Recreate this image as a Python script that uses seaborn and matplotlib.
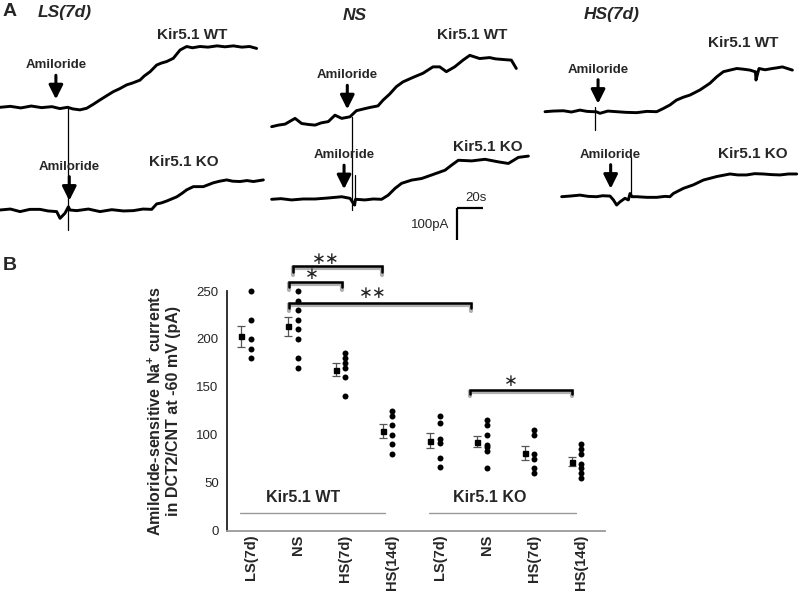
import numpy as np
import pandas as pd
import matplotlib
matplotlib.use("Agg")
import matplotlib.pyplot as plt
import seaborn as sns

sns.set_theme(style="white")
plt.rcParams["font.family"] = ["Liberation Sans", "DejaVu Sans"]
plt.rcParams["mathtext.fontset"] = "custom"
plt.rcParams["mathtext.bf"] = "Liberation Sans:bold"
plt.rcParams["mathtext.rm"] = "Liberation Sans"

# ---------------- Panel A: current traces (time in s, current change in pA) ----------------
ls_wt_t = [0, 8, 16, 24, 32, 40, 46, 52, 56, 61.5, 66.7, 72, 76.9, 82, 87.2, 92, 97.4,
           102, 107.7, 111, 115.4, 120.5, 124, 128.2, 133.3, 138.5, 143.6, 148, 153.8, 160, 167, 173,
           179.5, 186, 192, 197.4]
ls_wt_i = [0, 3, -2, 4, -1, 2, -4, 0, -5, -8, -3, 10, 23, 36, 49, 58, 70,
           76, 85, 98, 111, 132, 138, 143, 153, 179, 190, 186, 190, 188, 192, 189,
           192, 188, 190, 184]
ls_ko_t = [0, 8, 15.4, 23, 30.8, 37, 43.6, 46.2, 50, 52.6, 53.8, 59, 68, 76.9, 86, 95, 102.5, 110,
           116.7, 120.5, 124, 128.2, 135.9, 140, 143.6, 148.7, 156.4, 164.1, 169, 174.4, 179, 184.6,
           190, 194.9, 202.6]
ls_ko_i = [0, 3, -5, 2, 2, -3, -5, -26, -10, 10, 0, -2, 3, -5, 1, -3, -2, 3,
           2, 19, 22, 28, 41, 52, 63, 73, 73, 85, 90, 94, 90, 89,
           92, 89, 94]

ns_wt_t = [2.8, 8, 13.1, 20.8, 25.9, 31, 36.2, 41, 46.4, 51.5, 56.7, 63.1, 68, 73,
           78.2, 84.6, 88.5, 93.6, 98.7, 103.8, 111.5, 119.2, 126.9, 132.1, 137.2, 143.6, 150, 155.2,
           162.8, 170.5, 175, 180.8, 187.2, 191]
ns_wt_i = [0, 5, 8, 26, 10, 7, 5, 12, 16, 36, 26, 31, 50, 55,
           60, 65, 83, 102, 125, 140, 154, 167, 187, 187, 172, 187, 208, 223,
           213, 216, 212, 210, 208, 182]
ns_ko_t = [2.8, 10, 18.2, 27, 36.2, 46, 56.7, 63.1, 64.9, 66.5, 67.3, 74.6, 81, 87.4, 92.5,
           97.7, 102.8, 110.5, 118.2, 125.9, 136.2, 141.3, 146.4, 156.7, 166.9, 177.2, 184.9, 192.6,
           200.3]
ns_ko_i = [0, 2, -2, 1, 1, 4, 8, 3, -8, -18, 0, -2, 1, 0, 13,
           34, 50, 60, 65, 76, 91, 107, 122, 120, 125, 117, 112, 131,
           135]

hs_wt_t = [7.7, 14, 21.8, 28, 34.6, 40, 44.9, 47, 50, 56, 62.8, 70, 78.2, 86, 93.6,
           98.7, 103.8, 108.7, 113.9, 119.2, 126.9, 134.6, 139.8, 144.9, 150, 155.2, 160, 165.4,
           169.2, 169.6, 170, 172.3, 177, 182.6, 186, 190.3, 198]
hs_wt_i = [0, 2, 3, -1, 5, 1, 0, 0, -5, 2, 0, -2, -3, 1, 0,
           10, 21, 36, 45, 52, 68, 89, 109, 125, 130, 135, 133, 130,
           125, 125, 99, 135, 131, 135, 137, 140, 130]
hs_ko_t = [20.5, 27, 34.6, 41, 47.4, 52, 57.7, 60.3, 62.8, 65.4, 69.2, 71.8, 73.1, 74.6,
           78.2, 86, 93.6, 100, 103.8, 106.4, 114.1, 121.8, 129.5, 139.8, 150, 156, 162.8, 169,
           175.6, 182, 188.5, 195, 201.3]
hs_ko_i = [0, 2, 5, 1, 0, 3, 2, -10, -26, -16, -5, -10, 10, 0,
           0, -2, -2, 1, 0, 10, 26, 37, 52, 63, 71, 68, 68, 72,
           71, 69, 68, 71, 71]

# fast artifacts on the traces: (time s, low pA, high pA)
artifacts = {"LS_WT": [(52.3, -383, 0)], "LS_KO": [],
             "NS_WT": [(64.8, -260, 31)], "NS_KO": [(66.9, -18, 76)],
             "HS_WT": [(46.3, -57, 16)], "HS_KO": [(73.8, 0, 125)]}

# amiloride application time (s) for each trace
amiloride_t = {"LS_WT": 43, "LS_KO": 53.3, "NS_WT": 61, "NS_KO": 58.5, "HS_WT": 48.5, "HS_KO": 58.2}

# ---------------- Panel B: amiloride-sensitive Na+ currents ----------------
diets = ["LS(7d)", "NS", "HS(7d)", "HS(14d)"]
wt_points = [[250, 220, 200, 190, 180],
             [250, 240, 230, 220, 210, 200, 180, 170],
             [185, 180, 175, 170, 160, 140],
             [125, 120, 110, 100, 90, 80]]
ko_points = [[120, 112, 96, 91, 76, 66],
             [115, 110, 100, 89, 87, 83, 65],
             [105, 100, 80, 75, 65, 60],
             [90, 85, 80, 70, 65, 60, 55]]
wt_mean = [203, 213, 168, 104]
wt_sem = [11, 10, 7, 7]
ko_mean = [94, 93, 81, 72]
ko_sem = [8, 6, 7, 4.5]

W_PX, H_PX = 800, 593
PX_PER_S = 1.3
PX_PER_PA = 0.32
A_H = 250  # height of panel A strip, px

fig = plt.figure(figsize=(8, 5.93), dpi=100)


def fxy(x, y):
    return x / W_PX, 1 - y / H_PX


def ftext(x, y, s, **kw):
    kw.setdefault("ha", "center")
    kw.setdefault("va", "center")
    fig.text(*fxy(x, y), s, **kw)


def pa(y_px):
    return (A_H - y_px) / PX_PER_PA


panels = [
    # left px, width px, WT trace, KO trace, WT baseline px, KO baseline px, key
    (0, 268, (ls_wt_t, ls_wt_i), (ls_ko_t, ls_ko_i), 107.3, 210.0, "LS"),
    (268, 267, (ns_wt_t, ns_wt_i), (ns_ko_t, ns_ko_i), 126.7, 199.3, "NS"),
    (535, 265, (hs_wt_t, hs_wt_i), (hs_ko_t, hs_ko_i), 111.7, 196.7, "HS"),
]

for left, width, wt, ko, wt_base, ko_base, key in panels:
    ax = fig.add_axes([left / W_PX, 1 - A_H / H_PX, width / W_PX, A_H / H_PX])
    ax.set_xlim(0, width / PX_PER_S)
    ax.set_ylim(0, A_H / PX_PER_PA)
    ax.axis("off")
    for (t, i), base, geno in [(wt, wt_base, "WT"), (ko, ko_base, "KO")]:
        name = key + "_" + geno
        b = pa(base)
        ax.plot(t, np.array(i) + b, color="black", lw=2.1, solid_joinstyle="round")
        for ts, lo, hi in artifacts[name]:
            ax.plot([ts, ts], [b + lo, b + hi], color="black", lw=0.9)
        ta = amiloride_t[name]
        local = max(np.interp(ta, t, i), 0)
        tip = b + local + 8 / PX_PER_PA
        tail = tip + 24 / PX_PER_PA
        ax.annotate("", xy=(ta, tip), xytext=(ta, tail),
                    arrowprops=dict(arrowstyle="-|>,head_width=0.3,head_length=0.6",
                                    lw=2.2, color="black", mutation_scale=14,
                                    shrinkA=0, shrinkB=0))
        ax.text(ta, tail + 4 / PX_PER_PA, "Amiloride", ha="center", va="bottom",
                fontsize=9.5, fontweight="bold")
    if key == "NS":
        # scale bar: 20 s / 100 pA
        x0, y0 = (457.3 - left) / PX_PER_S, pa(208.3)
        ax.plot([x0, x0 + 20], [y0, y0], color="black", lw=1.6, solid_capstyle="butt")
        ax.plot([x0, x0], [y0, y0 - 100], color="black", lw=1.6, solid_capstyle="butt")
        ax.text(x0 + 14, y0 + 12, "20s", ha="center", va="bottom", fontsize=9.5)
        ax.text(x0 - 6, y0 - 52, "100pA", ha="right", va="center", fontsize=9.5)

ftext(10, 12, "A", fontsize=14, fontweight="bold")
ftext(64.5, 13, "LS(7d)", fontsize=12.5, fontweight="bold", style="italic")
ftext(355, 15, "NS", fontsize=12.5, fontweight="bold", style="italic")
ftext(612, 15, "HS(7d)", fontsize=12.5, fontweight="bold", style="italic")
for x, y, s in [(192, 35, "Kir5.1 WT"), (184, 162, "Kir5.1 KO"),
                (472, 35, "Kir5.1 WT"), (488, 147, "Kir5.1 KO"),
                (743, 43, "Kir5.1 WT"), (753, 154, "Kir5.1 KO")]:
    ftext(x, y, s, fontsize=11, fontweight="bold")

ftext(10, 266, "B", fontsize=14, fontweight="bold")

# ---------------- Panel B ----------------
rows = []
for g, pts in enumerate(wt_points + ko_points):
    for v in pts:
        rows.append({"pos": g, "current": v})
df = pd.DataFrame(rows)

axb = fig.add_axes([227 / W_PX, 1 - 530.7 / H_PX, (605 - 227) / W_PX, (530.7 - 291) / H_PX])
sns.stripplot(data=df, x="pos", y="current", jitter=False, color="black", size=4.3,
              linewidth=0, ax=axb, clip_on=False)
means = wt_mean + ko_mean
sems = wt_sem + ko_sem
axb.errorbar(np.arange(8) - 0.2, means, yerr=sems, fmt="s", ms=3.6, color="black",
             ecolor="#555555", elinewidth=0.9, capsize=3, capthick=0.9, zorder=3)

axb.set_xlim(-0.5, 7.5)
axb.set_ylim(0, 250)
axb.set_yticks([0, 50, 100, 150, 200, 250])
axb.set_xticks(range(8))
axb.set_xticklabels(diets + diets, rotation=90, fontsize=10.5, fontweight="bold")
axb.tick_params(axis="both", length=0)
axb.tick_params(axis="x", pad=3)
axb.tick_params(axis="y", pad=6, labelsize=9.5)
axb.set_xlabel("")
axb.set_ylabel("Amiloride-sensitive Na$^{\\mathbf{+}}$ currents\nin DCT2/CNT at -60 mV (pA)",
               fontsize=11.5, fontweight="bold", linespacing=1.15)
axb.yaxis.set_label_coords(-0.122, 0.5)
for s in ["top", "right"]:
    axb.spines[s].set_visible(False)
axb.spines["left"].set_color("#222222")
axb.spines["left"].set_linewidth(1.3)
axb.spines["bottom"].set_color("#9a9a9a")
axb.spines["bottom"].set_linewidth(1.3)
axb.set_facecolor("white")

# group labels
axb.plot([-0.225, 2.84], [18, 18], color="#999999", lw=1, clip_on=False)
axb.plot([3.775, 6.886], [18, 18], color="#999999", lw=1, clip_on=False)
axb.text(1.12, 35, "Kir5.1 WT", ha="center", va="center", fontsize=11.5, fontweight="bold")
axb.text(5.07, 35, "Kir5.1 KO", ha="center", va="center", fontsize=11.5, fontweight="bold")

# significance brackets: x0, x1, y, tick depth, label, label x, label y
brackets = [(0.897, 2.78, 276.4, 7, "∗∗", 1.6, 283),
            (0.81, 1.93, 259.7, 6, "∗", 1.3, 268),
            (0.81, 4.66, 237.8, 6, "∗∗", 2.59, 248),
            (4.64, 6.8, 146.7, 4, "∗", 5.5, 156)]
for x0, x1, y, d, lab, lx, ly in brackets:
    xs = [x0, x0, x1, x1]
    ys = [y - d, y, y, y - d]
    axb.plot(xs, np.array(ys) - 2.2, color="#b0b0b0", lw=3, clip_on=False,
             solid_joinstyle="miter")
    axb.plot(xs, ys, color="black", lw=1.8, clip_on=False, solid_joinstyle="miter")
    axb.text(lx, ly, lab, ha="center", va="center", fontsize=12, color="#222222",
             family=["DejaVu Sans"])

fig.savefig("out.png", dpi=100, facecolor="white")
